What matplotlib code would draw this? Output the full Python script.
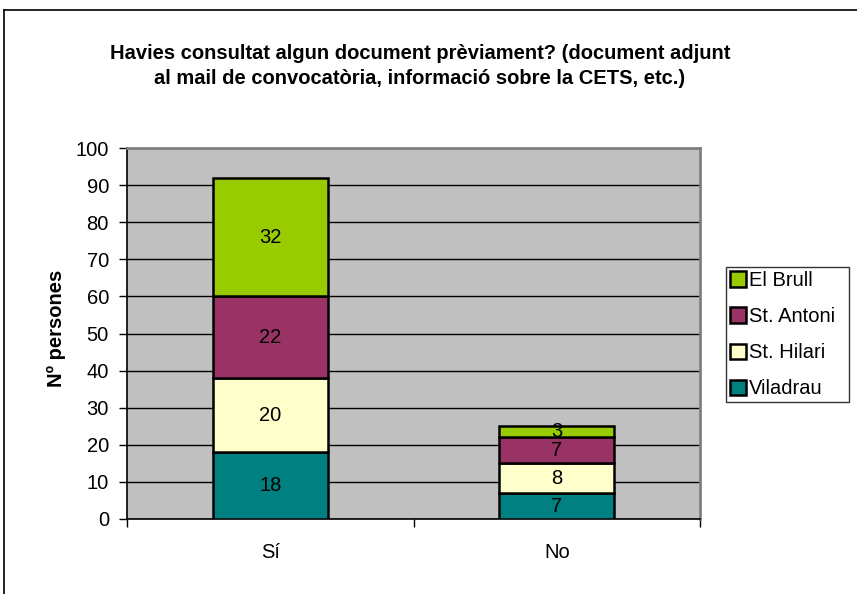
import numpy as np
import matplotlib.pyplot as plt
from matplotlib.lines import Line2D
from matplotlib.ticker import MultipleLocator, FixedLocator

plt.rcParams['font.family'] = ['Liberation Sans', 'DejaVu Sans']

categories = ['Sí', 'No']
series_names = ['Viladrau', 'St. Hilari', 'St. Antoni', 'El Brull']
viladrau = [18, 7]
st_hilari = [20, 8]
st_antoni = [22, 7]
el_brull = [32, 3]
colors = ['#008080', '#FFFFCC', '#993366', '#99CC00']

FS = 14.5
W, H = 857, 594
fig = plt.figure(figsize=(W / 100, H / 100), dpi=100)
ax = fig.add_axes([127 / W, 1 - 519 / H, (700 - 127) / W, (519 - 148) / H])
ax.set_facecolor('#C0C0C0')

x = np.arange(len(categories))
bottom = np.zeros(len(categories))
handles = []
for name, vals, col in zip(series_names, [viladrau, st_hilari, st_antoni, el_brull], colors):
    bars = ax.bar(x, vals, 0.4, bottom=bottom, color=col, edgecolor='black',
                  linewidth=1.8, label=name, zorder=3)
    for xi, v, b in zip(x, vals, bottom):
        ax.text(xi, b + v / 2, str(v), ha='center', va='center', fontsize=FS, zorder=4)
    bottom += np.array(vals)
    handles.append(bars)

ax.set_xlim(-0.5, 1.5)
ax.set_ylim(0, 100)
ax.yaxis.set_major_locator(MultipleLocator(10))
ax.grid(axis='y', color='black', linewidth=1, zorder=1)
ax.set_xticks(x)
ax.set_xticklabels(categories, fontsize=FS)
ax.xaxis.set_minor_locator(FixedLocator([-0.5, 0.5, 1.5]))
ax.tick_params(axis='x', which='major', length=0, pad=17)
ax.tick_params(axis='x', which='minor', length=6, direction='out', width=1)
ax.tick_params(axis='y', length=6, direction='out', width=1, labelsize=FS, pad=7)
for s in ['top', 'right']:
    ax.spines[s].set_color('#808080')
    ax.spines[s].set_linewidth(2)
for s in ['left', 'bottom']:
    ax.spines[s].set_color('black')
    ax.spines[s].set_linewidth(1.2)

ax.set_ylabel('Nº persones', fontsize=FS, fontweight='bold')
ax.yaxis.set_label_coords(-0.106, 0.513)

fig.text(420 / W, 1 - 66 / H,
         'Havies consultat algun document prèviament? (document adjunt\n'
         'al mail de convocatòria, informació sobre la CETS, etc.)',
         ha='center', va='center', fontsize=FS, fontweight='bold', linespacing=1.45)

leg = fig.legend(handles[::-1], series_names[::-1], loc='upper left',
                 bbox_to_anchor=(725.5 / W, 1 - 400 / H, 123.5 / W, 133 / H),
                 mode='expand', fontsize=FS,
                 frameon=True, fancybox=False, edgecolor='black',
                 handlelength=0.8, handleheight=0.8, handletextpad=0.15,
                 borderpad=0.2, labelspacing=0.85, borderaxespad=0)
leg.get_frame().set_linewidth(1)

# outer chart frame
fig.add_artist(Line2D([3.5 / W, 3.5 / W], [0, 1 - 10 / H], color='black', linewidth=1.2,
                      transform=fig.transFigure))
fig.add_artist(Line2D([3.5 / W, 1], [1 - 10 / H, 1 - 10 / H], color='black', linewidth=1.2,
                      transform=fig.transFigure))

fig.savefig('out.png', dpi=100, facecolor='white')
